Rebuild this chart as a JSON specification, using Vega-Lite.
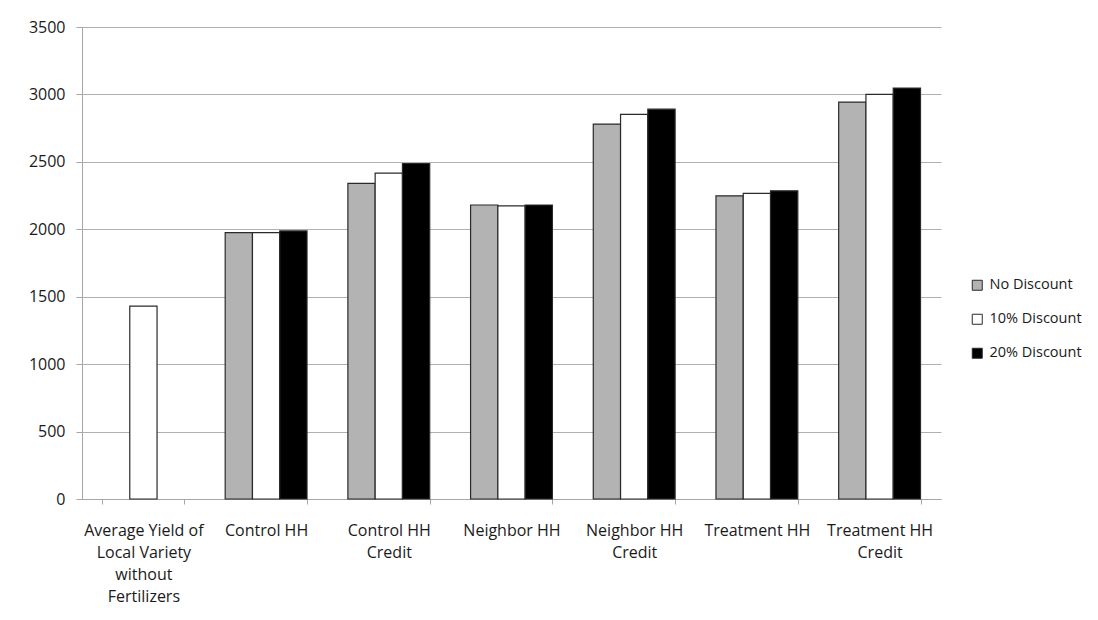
{
  "$schema": "https://vega.github.io/schema/vega-lite/v6.json",
  "width": 859,
  "height": 472,
  "autosize": {"type": "none"},
  "padding": {"left": 82, "top": 27, "right": 157, "bottom": 121},
  "background": "#ffffff",
  "config": {
    "view": {"stroke": null},
    "font": "Open Sans",
    "axis": {"labelFont": "Open Sans", "labelColor": "#1a1a1a", "domainColor": "#a6a6a6", "tickColor": "#a6a6a6", "gridColor": "#b0b0b0"}
  },
  "data": {
    "values": [
      {"group": "Average Yield of Local Variety without Fertilizers", "discount": "10% Discount", "yield": 1430},
      {"group": "Control HH", "discount": "No Discount", "yield": 1975},
      {"group": "Control HH", "discount": "10% Discount", "yield": 1975},
      {"group": "Control HH", "discount": "20% Discount", "yield": 1988},
      {"group": "Control HH Credit", "discount": "No Discount", "yield": 2340},
      {"group": "Control HH Credit", "discount": "10% Discount", "yield": 2417},
      {"group": "Control HH Credit", "discount": "20% Discount", "yield": 2488},
      {"group": "Neighbor HH", "discount": "No Discount", "yield": 2180},
      {"group": "Neighbor HH", "discount": "10% Discount", "yield": 2173},
      {"group": "Neighbor HH", "discount": "20% Discount", "yield": 2180},
      {"group": "Neighbor HH Credit", "discount": "No Discount", "yield": 2780},
      {"group": "Neighbor HH Credit", "discount": "10% Discount", "yield": 2852},
      {"group": "Neighbor HH Credit", "discount": "20% Discount", "yield": 2891},
      {"group": "Treatment HH", "discount": "No Discount", "yield": 2248},
      {"group": "Treatment HH", "discount": "10% Discount", "yield": 2266},
      {"group": "Treatment HH", "discount": "20% Discount", "yield": 2285},
      {"group": "Treatment HH Credit", "discount": "No Discount", "yield": 2943},
      {"group": "Treatment HH Credit", "discount": "10% Discount", "yield": 3000},
      {"group": "Treatment HH Credit", "discount": "20% Discount", "yield": 3047}
    ]
  },
  "mark": {"type": "bar", "stroke": "#2a2a2a", "strokeWidth": 1.2},
  "encoding": {
    "x": {
      "field": "group",
      "type": "nominal",
      "sort": null,
      "title": null,
      "scale": {"paddingInner": 0.333, "paddingOuter": 0.167},
      "axis": {
        "labelAngle": 0,
        "labelFontSize": 16,
        "labelLimit": 200,
        "labelPadding": 18,
        "labelLineHeight": 22,
        "labelBaseline": "top",
        "tickBand": "extent",
        "tickSize": 5,
        "domainColor": "#a6a6a6",
        "labelExpr": "datum.value == 'Average Yield of Local Variety without Fertilizers' ? ['Average Yield of', 'Local Variety', 'without', 'Fertilizers'] : datum.value == 'Control HH Credit' ? ['Control HH', 'Credit'] : datum.value == 'Neighbor HH Credit' ? ['Neighbor HH', 'Credit'] : datum.value == 'Treatment HH Credit' ? ['Treatment HH', 'Credit'] : datum.value"
      }
    },
    "xOffset": {
      "field": "discount",
      "type": "nominal",
      "scale": {"domain": ["No Discount", "10% Discount", "20% Discount"], "paddingInner": 0, "paddingOuter": 0}
    },
    "y": {
      "field": "yield",
      "type": "quantitative",
      "title": null,
      "scale": {"domain": [0, 3500], "nice": false},
      "axis": {
        "values": [0, 500, 1000, 1500, 2000, 2500, 3000, 3500],
        "format": "d",
        "labelFontSize": 16,
        "labelPadding": 11,
        "tickSize": 6,
        "grid": true
      }
    },
    "fill": {
      "field": "discount",
      "type": "nominal",
      "scale": {"domain": ["No Discount", "10% Discount", "20% Discount"], "range": ["#b3b3b3", "#ffffff", "#000000"]},
      "legend": {
        "title": null,
        "orient": "none",
        "legendX": 888,
        "legendY": 251,
        "padding": 0,
        "symbolType": "square",
        "symbolSize": 100,
        "symbolStrokeColor": "#2a2a2a",
        "symbolStrokeWidth": 1,
        "labelFontSize": 14.5,
        "labelFont": "Open Sans",
        "labelColor": "#1a1a1a",
        "labelOffset": 5,
        "rowPadding": 18
      }
    }
  }
}
